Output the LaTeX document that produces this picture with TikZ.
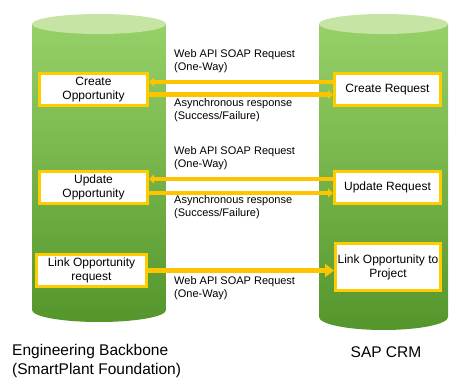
\documentclass[tikz,border=0pt]{standalone}
\usepackage{fontspec}
\setmainfont{Liberation Sans}
\usetikzlibrary{arrows.meta, positioning, calc}

\definecolor{cylTop}{RGB}{198,228,164}
\definecolor{cylLight}{RGB}{150,208,104}
\definecolor{cylDark}{RGB}{84,150,44}
\definecolor{boxYellow}{RGB}{255,204,0}
\definecolor{lineYellow}{RGB}{255,196,0}

\begin{document}
\begin{tikzpicture}[
  x=1pt, y=-1pt,
  box/.style      = {draw=boxYellow, line width=3pt, fill=white, align=center,
                     inner sep=1pt, font=\fontsize{12}{14}\selectfont},
  msg/.style      = {anchor=west, align=left, inner sep=0pt,
                     font=\fontsize{11}{13}\selectfont},
  title/.style    = {align=left, inner sep=0pt, font=\fontsize{15.5}{18.5}\selectfont},
  arrow/.style    = {draw=lineYellow, line width=4.5pt, -{Triangle[length=5pt, width=9pt]}},
  bigarrow/.style = {arrow, -{Triangle[length=9pt, width=13pt]}}
]
\useasboundingbox (0,0) rectangle (451,380);

%--------------------------------------------------
% Systems (cylinders)
%--------------------------------------------------
\shade[top color=cylLight, bottom color=cylDark]
  (32,24) -- (32,310) arc[start angle=180, end angle=0, x radius=67, y radius=12]
  -- (166,24) -- cycle;
\fill[cylTop] (99,24) ellipse[x radius=67, y radius=10];

\shade[top color=cylLight, bottom color=cylDark]
  (319,24) -- (319,317) arc[start angle=180, end angle=0, x radius=64.5, y radius=13]
  -- (448,24) -- cycle;
\fill[cylTop] (383.5,24) ellipse[x radius=64.5, y radius=10];

%--------------------------------------------------
% Functions (blocks)
%--------------------------------------------------
\node[box, minimum width=108pt, minimum height=32pt] (creOpp) at (93.5,89.5)
  {Create\\Opportunity};
\node[box, minimum width=108pt, minimum height=32pt] (updOpp) at (93.5,187)
  {Update\\Opportunity};
\node[box, minimum width=110pt, minimum height=32pt] (linkOpp) at (91.5,270.5)
  {Link Opportunity\\request};

\node[box, minimum width=106pt, minimum height=32pt] (creReq) at (387.5,89.5)
  {Create Request};
\node[box, minimum width=106pt, minimum height=32pt] (updReq) at (387.5,187)
  {Update Request};
\node[box, minimum width=105pt, minimum height=47pt] (linkReq) at (388,267)
  {Link Opportunity to\\Project};

%--------------------------------------------------
% Connections
%--------------------------------------------------

% create
\draw[arrow] ([yshift=7.5pt]creReq.west) -- ([yshift=7.5pt]creOpp.east);
\draw[arrow] ([yshift=-5pt]creOpp.east) -- ([yshift=-5pt]creReq.west);

% update
\draw[arrow] ([yshift=8pt]updReq.west) -- ([yshift=8pt]updOpp.east);
\draw[arrow] ([yshift=-6pt]updOpp.east) -- ([yshift=-6pt]updReq.west);

% link
\draw[bigarrow] (linkOpp.east) -- (linkOpp.east -| linkReq.west);

%--------------------------------------------------
% Message labels
%--------------------------------------------------
\node[msg] (reqLbl1) at (174,61.5) {Web API SOAP Request\\(One-Way)};
\node[msg] (rspLbl1) at (174,110.5) {Asynchronous response\\(Success/Failure)};
\node[msg] (reqLbl2) at (174,158.5) {Web API SOAP Request\\(One-Way)};
\node[msg] (rspLbl2) at (174,207.5) {Asynchronous response\\(Success/Failure)};
\node[msg] (reqLbl3) at (174,288) {Web API SOAP Request\\(One-Way)};

% system names
\node[title, anchor=west] (ebTitle) at (12,361)
  {Engineering Backbone\\(SmartPlant Foundation)};
\node[title] (sapTitle) at (386,352) {SAP CRM};

\end{tikzpicture}
\end{document}
